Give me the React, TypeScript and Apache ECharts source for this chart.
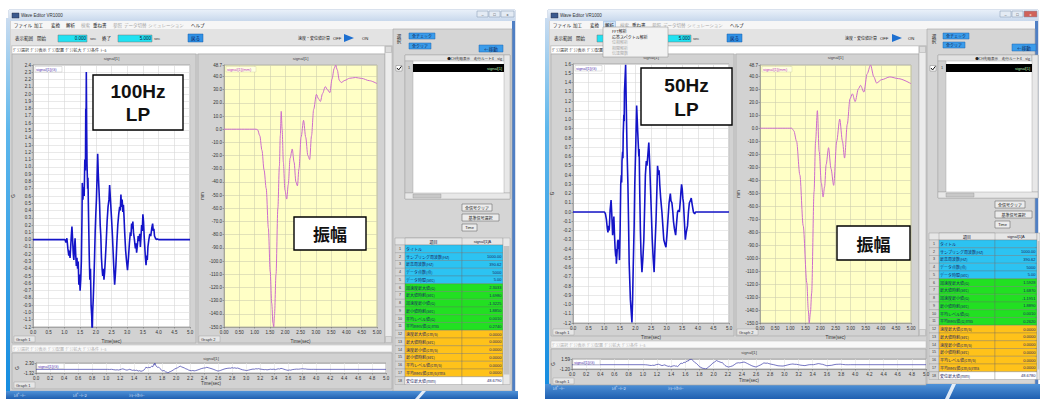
import { useEffect, useRef } from "react";
import * as echarts from "echarts";

const LAT = '"Liberation Sans", Arial, sans-serif';
const JP = '"Noto Sans CJK JP", "Noto Sans CJK SC", sans-serif';

// Acceleration after the 100 Hz low-pass filter: [time (sec), G]
const accel100Hz: [number, number][] = [
  [0, 0], [1.02, 0], [1.05, -0.04], [1.08, 0.02], [1.11, -0.12], [1.14, -0.22], [1.16, -0.15], [1.18, -0.25],
  [1.2, -0.1], [1.22, 0.05], [1.24, 0.18], [1.26, 0.02], [1.28, -0.18], [1.3, -0.28], [1.32, -0.12], [1.34, 0.02],
  [1.36, -0.2], [1.38, -0.36], [1.4, -0.25], [1.42, -0.4], [1.44, -0.3], [1.46, -0.62], [1.48, -0.48], [1.5, -0.7],
  [1.52, -0.55], [1.54, -0.3], [1.56, 0.3], [1.57, 0.78], [1.59, 0.55], [1.61, 0.72], [1.63, 0.6], [1.65, 1.1],
  [1.67, 0.95], [1.68, 1.8], [1.69, 1.6], [1.698, 2.3033], [1.71, 1.5], [1.72, 1.05], [1.74, 0.7], [1.75, 0.85],
  [1.77, 0.3], [1.79, -0.2], [1.81, -0.55], [1.83, -0.4], [1.85, -0.9], [1.87, -1.05], [1.885, -1.3225], [1.9, -1.0],
  [1.92, -0.8], [1.94, -0.55], [1.96, -0.25], [1.98, 0.1], [2.0, 0.35], [2.02, 0.55], [2.04, 0.85], [2.06, 1.18],
  [2.08, 0.9], [2.1, 0.7], [2.12, 0.5], [2.14, 0.2], [2.16, 0.05], [2.18, -0.25], [2.2, -0.4], [2.22, -0.5],
  [2.24, -0.4], [2.26, -0.55], [2.28, -0.45], [2.3, -0.3], [2.33, -0.05], [2.36, 0.25], [2.39, 0.45], [2.42, 0.55],
  [2.44, 0.75], [2.46, 0.6], [2.48, 0.45], [2.5, 0.3], [2.53, 0.05], [2.56, -0.25], [2.58, -0.45], [2.6, -0.62],
  [2.62, -0.5], [2.64, -0.35], [2.67, -0.05], [2.7, 0.2], [2.73, 0.35], [2.76, 0.45], [2.78, 0.4], [2.8, 0.62],
  [2.82, 0.45], [2.84, 0.55], [2.86, 0.38], [2.88, 0.48], [2.9, 0.3], [2.92, 0.1], [2.95, -0.15], [2.98, -0.3],
  [3.01, -0.42], [3.04, -0.25], [3.07, -0.05], [3.1, 0.1], [3.12, 0.05], [3.14, 0.22], [3.16, 0.15], [3.18, 0.25],
  [3.2, 0.1], [3.23, 0.0], [3.26, -0.12], [3.28, -0.05], [3.3, -0.18], [3.33, -0.05], [3.35, 0.05], [3.37, -0.02],
  [3.4, 0.08], [3.42, -0.1], [3.44, 0.05], [3.46, 0.2], [3.48, 0.12], [3.5, 0.35], [3.52, 0.25], [3.54, 0.05],
  [3.56, -0.1], [3.58, -0.25], [3.6, -0.35], [3.62, -0.22], [3.64, -0.28], [3.66, -0.1], [3.69, 0.0], [3.72, 0.08],
  [3.75, 0.05], [3.78, 0.15], [3.81, 0.22], [3.83, 0.12], [3.85, 0.15], [3.87, 0.05], [3.9, 0.02], [3.93, 0.0],
  [3.96, 0.01], [4.0, 0], [5.0, 0],
];

// Acceleration after the 50 Hz low-pass filter: [time (sec), G]
const accel50Hz: [number, number][] = [
  [0, 0], [1.01, 0], [1.04, -0.02], [1.07, -0.08], [1.1, -0.18], [1.12, -0.22], [1.14, -0.15], [1.16, -0.2],
  [1.19, 0.02], [1.22, 0.13], [1.24, 0.0], [1.27, -0.25], [1.29, -0.15], [1.31, -0.05], [1.33, -0.25], [1.35, -0.4],
  [1.37, -0.48], [1.38, -0.4], [1.39, -0.56], [1.41, -0.45], [1.43, -0.32], [1.45, -0.3], [1.46, -0.4], [1.47, -0.32],
  [1.49, -0.52], [1.51, -0.2], [1.53, 0.3], [1.55, 0.4], [1.56, 0.32], [1.57, 0.55], [1.59, 0.65], [1.6, 0.58],
  [1.61, 0.85], [1.63, 1.05], [1.64, 0.98], [1.65, 1.3], [1.687, 1.5928], [1.71, 1.1], [1.73, 0.7], [1.76, 0.3],
  [1.78, -0.1], [1.8, -0.55], [1.82, -0.75], [1.84, -0.95], [1.86, -1.05], [1.889, -1.1951], [1.91, -0.95], [1.93, -0.6],
  [1.96, -0.15], [1.98, 0.3], [2.01, 0.7], [2.04, 1.15], [2.07, 0.9], [2.09, 0.75], [2.11, 0.6], [2.12, 0.68],
  [2.14, 0.2], [2.16, -0.2], [2.18, -0.45], [2.21, -0.65], [2.24, -0.5], [2.27, -0.3], [2.3, 0.1], [2.32, 0.4],
  [2.35, 0.55], [2.37, 0.5], [2.4, 0.62], [2.43, 0.75], [2.46, 0.5], [2.48, 0.3], [2.51, 0.0], [2.54, -0.3],
  [2.57, -0.5], [2.6, -0.65], [2.63, -0.35], [2.66, -0.1], [2.69, 0.25], [2.71, 0.5], [2.74, 0.4], [2.76, 0.45],
  [2.78, 0.3], [2.81, 0.15], [2.85, 0.0], [2.88, -0.15], [2.91, -0.3], [2.95, -0.35], [2.98, -0.38], [3.01, -0.25],
  [3.04, -0.1], [3.08, 0.1], [3.1, 0.15], [3.12, 0.2], [3.14, 0.12], [3.17, 0.1], [3.2, 0.0], [3.22, -0.1],
  [3.25, -0.18], [3.29, -0.25], [3.32, -0.12], [3.35, 0.0], [3.38, 0.02], [3.41, 0.0], [3.44, 0.12], [3.46, 0.22],
  [3.48, 0.3], [3.5, 0.25], [3.52, 0.15], [3.54, 0.1], [3.57, -0.1], [3.6, -0.3], [3.63, -0.22], [3.67, -0.15],
  [3.7, 0.0], [3.73, 0.1], [3.76, 0.12], [3.79, 0.15], [3.82, 0.08], [3.86, 0.0], [3.9, -0.02], [3.93, 0.0],
  [5.0, 0],
];

// Displacement (mm), 100 Hz low-pass case
const disp100Hz: [number, number][] = [
  [0, 0], [1.05, 0], [1.1, -0.5], [1.17, -5], [1.24, -16], [1.31, -31], [1.38, -45], [1.45, -75], [1.51, -108],
  [1.56, -132], [1.6, -147], [1.625, -150], [1.65, -141], [1.7, -110], [1.76, -60], [1.81, -28], [1.84, -5],
  [1.87, 13.5], [1.9, 0], [1.94, -25], [1.99, -46], [2.05, -53], [2.1, -42], [2.16, -22], [2.23, -15], [2.29, -25],
  [2.35, -40], [2.4, -43], [2.45, -30], [2.52, -6], [2.6, 6.7], [2.67, -6], [2.74, -20], [2.8, -23], [2.86, -5],
  [2.93, 15], [3.02, 26.4], [3.09, 23], [3.15, 21], [3.22, 27], [3.31, 32.3], [3.38, 30], [3.46, 27.7], [3.53, 38],
  [3.6, 46], [3.65, 48.679], [3.7, 45], [3.77, 37], [3.83, 35.4], [3.95, 37], [4.1, 38.6], [4.3, 39.2], [4.5, 38.5],
  [4.75, 36.8], [5.0, 34.6],
];

// Displacement (mm), 50 Hz low-pass case
const disp50Hz: [number, number][] = [
  [0, 0], [1.05, 0], [1.12, -2], [1.21, -10], [1.32, -36], [1.43, -75], [1.55, -119], [1.6, -140], [1.63, -150],
  [1.67, -142], [1.71, -127], [1.79, -49], [1.84, -10], [1.9, 13.5], [1.96, -18], [2.03, -42], [2.09, -53],
  [2.14, -45], [2.19, -28], [2.27, -15], [2.35, -31], [2.44, -44], [2.54, -10], [2.64, 7], [2.73, -10], [2.8, -23],
  [2.89, 3], [2.98, 22.6], [3.06, 26.5], [3.15, 20.5], [3.26, 30.4], [3.33, 33], [3.44, 27.8], [3.55, 42],
  [3.66, 48.678], [3.77, 39.5], [3.86, 34.8], [4.03, 37.4], [4.3, 39.5], [4.58, 38.2], [5.0, 34.3],
];

const menuLabels = ["ファイル", "加工", "変換", "解析", "検索", "重ね書", "参照", "データ切替", "シミュレーション", "ヘルプ"];
const menuGrayed = [false, false, false, false, true, false, true, true, true, false];
const graphTabs = ["ｸﾞﾗﾌ選択", "ｸﾞﾗﾌ表示", "ｸﾞﾗﾌ配置", "ｸﾞﾗﾌ拡大", "ｸﾞﾗﾌ条件", "ﾄｰﾙ"];
const analysisItems = ["FFT解析", "応答スペクトル解析", "位相解析", "相関解析", "伝達関数"];
const taskbarItems = ["ﾚﾎﾟｰﾄ-", "ﾚﾎﾟｰﾄ-2", "ｼｮｰﾄｶｯﾄ-"];

const tableItems = [
  "タイトル", "サンプリング周波数(Hz)", "最高周波数(Hz)", "データ点数(点)", "データ時間(sec)",
  "加速度最大値(G)", "最大値時刻(sec)", "加速度最小値(G)", "最小値時刻(sec)", "平均レベル値(G)", "平均RMS値(G)rms",
  "速度最大値(cm/s)", "最大値時刻(sec)", "速度最小値(cm/s)", "最小値時刻(sec)", "平均レベル値(cm/s)", "平均RMS値(cm/s)rms",
  "変位最大値(mm)",
];
const headerValues = ["", "1000.00", "390.62", "5000", "5.00"];
const levelRms100Hz = ["0.0010", "0.2740"];
const levelRms50Hz = ["0.0010", "0.2620"];
const velocityValues = ["0.0000", "0.0000", "0.0000", "0.0000", "0.0000", "0.0000"];
const noteLeft = ["100Hz", "LP"];
const noteRight = ["50Hz", "LP"];
const ampLabel = "振幅";

// row colours of the result table: basic info, acceleration, velocity, displacement
const rowFills = [
  "#2cc3f2", "#2cc3f2", "#2cc3f2", "#2cc3f2", "#2cc3f2",
  "#22e022", "#22e022", "#22e022", "#22e022", "#22e022", "#22e022",
  "#ffc21a", "#ffc21a", "#ffc21a", "#ffc21a", "#ffc21a", "#ffc21a",
  "#ffffff",
];

function tableValues(acc: [number, number][], disp: [number, number][], levelRms: string[]) {
  let hi = acc[0], lo = acc[0];
  acc.forEach((p) => { if (p[1] > hi[1]) hi = p; if (p[1] < lo[1]) lo = p; });
  const dmax = Math.max(...disp.map((p) => p[1]));
  return [
    ...headerValues,
    hi[1].toFixed(4), hi[0].toFixed(4), lo[1].toFixed(4), lo[0].toFixed(4),
    ...levelRms, ...velocityValues, dmax.toFixed(4),
  ];
}

type Box = { left: number; top: number; width: number; height: number };

const leftPanel = {
  x0: 9, x1: 515, top: 10, bottom: 391,
  graphR: 393, divider: 196, scrollX: 385,
  c1: { left: 33, top: 65, width: 157, height: 262 } as Box,
  c2: { left: 224, top: 65, width: 153, height: 262 } as Box,
  strip: { left: 36, top: 363, width: 350, height: 10 } as Box,
  chartGap: 10, stripGap: 8,
  titleY: 58, graphLabelY: 339, tab2Y: 345, stripTitleY: 358, stripLabelY: 385,
  speedX: [298, 333, 344, 362],
  side: { sel: 399, chk: [409, 33], clr: [409, 43], move: [479, 45], list: [405, 55, 105, 144], check: 396, btnX: 462, btnY: [204, 214, 224] },
  table: { x: 395, y: 238, cols: [10, 57, 41], rowH: 7.75, headH: 7, scrollW: 7 },
  note: { x: 93, y: 75, w: 90, h: 55 },
  amp: { x: 294, y: 217, w: 72, h: 33 },
  taskY: 391, streakX: 415, dropdown: null as null | { x: number; y: number; w: number; h: number },
  closeRed: false,
};

const rightPanel = {
  x0: 548, x1: 1038, top: 10, bottom: 384,
  graphR: 927, divider: 734, scrollX: 919,
  c1: { left: 573, top: 64, width: 156, height: 259 } as Box,
  c2: { left: 760, top: 65, width: 151, height: 258 } as Box,
  strip: { left: 572, top: 359, width: 354, height: 10 } as Box,
  chartGap: 7, stripGap: 9,
  titleY: 57, graphLabelY: 332, tab2Y: 341, stripTitleY: 352, stripLabelY: 381,
  speedX: [845, 880, 892, 908],
  side: { sel: 934, chk: [943, 33], clr: [943, 42], move: [1012, 44], list: [938, 55, 100, 143], check: 930, btnX: 995, btnY: [201, 211, 221] },
  table: { x: 929, y: 233, cols: [10, 56, 42], rowH: 7.75, headH: 7, scrollW: 3 },
  note: { x: 641, y: 68, w: 91, h: 57 },
  amp: { x: 837, y: 226, w: 73, h: 34 },
  taskY: 384, streakX: 945, dropdown: { x: 603, y: 27, w: 65, h: 30 },
  closeRed: true,
};

type Panel = typeof leftPanel;

function R(x: number, y: number, w: number, h: number, fill: any, stroke?: string, z = -5, lw = 0.6) {
  return {
    type: "rect", silent: true, z,
    shape: { x, y, width: w, height: h },
    style: { fill, stroke: stroke || "none", lineWidth: stroke ? lw : 0 },
  };
}

function T(x: number, y: number, text: string, size: number, color: string,
  opt: { align?: string; weight?: string; family?: string; z?: number } = {}) {
  const align = opt.align || "left";
  return {
    type: "text", silent: true, z: opt.z ?? -1, x, y,
    style: {
      text, fill: color, fontSize: size, fontFamily: opt.family || JP, fontWeight: opt.weight || "normal",
      align, textAlign: align, verticalAlign: "middle", textVerticalAlign: "middle",
    },
  };
}

function vgrad(stops: [number, string][]) {
  return new echarts.graphic.LinearGradient(0, 0, 0, 1, stops.map(([offset, color]) => ({ offset, color })));
}

function button(x: number, y: number, w: number, h: number, label: string, blue: boolean, size = 4) {
  return [
    R(x, y, w, h, blue ? "#3b9cea" : "#ececec", blue ? "#1c64b0" : "#555", -3, 0.5),
    T(x + w / 2, y + h / 2, label, size, blue ? "#0e1c55" : "#222", { align: "center", family: label === "Time" ? LAT : JP }),
  ];
}

function panelGraphics(p: Panel, values: string[], note: string[]) {
  const g: any[] = [];
  const { x0, x1 } = p;
  const W = x1 - x0;
  // items that sit under the open drop-down menu are not drawn
  const covered = (xa: number, xb: number, y: number) =>
    !!p.dropdown && xb > p.dropdown.x && xa < p.dropdown.x + p.dropdown.w &&
    y > p.dropdown.y && y < p.dropdown.y + p.dropdown.h;

  // window body and frame
  g.push(R(x0, p.top, W, p.bottom - p.top, "#d3d3d3", "#7f9cc4", -9));
  g.push({
    type: "rect", silent: true, z: -8,
    shape: { x: x0 - 3, y: p.top + 8, width: 4, height: p.bottom - p.top - 8 },
    style: { fill: vgrad([[0, "#cadcf0"], [0.3, "#5db7ec"], [1, "#168de0"]]) },
  });
  g.push(R(x1 - 3, p.top + 10, 3, p.bottom - p.top - 10, "#4f7fc4", undefined, -8));

  // title bar
  g.push({
    type: "rect", silent: true, z: -8,
    shape: { x: x0, y: p.top, width: W, height: 11 },
    style: { fill: vgrad([[0, "#e9f0f9"], [1, "#c8d8ec"]]) },
  });
  g.push(R(x0 + 3, p.top + 3, 7, 5, "#3b5a8e", "#223", -7, 0.4));
  g.push(T(x0 + 12, p.top + 5.5, "Wave Editor VR1000", 4.5, "#333", { family: LAT }));
  const bx = x1 - 38;
  g.push(R(bx, p.top + 1, 11, 6, "#e4ebf4", "#8094b0", -7, 0.5));
  g.push(R(bx + 12, p.top + 1, 11, 6, "#e4ebf4", "#8094b0", -7, 0.5));
  g.push(R(bx + 24, p.top + 1, 13, 6, p.closeRed ? "#d0625a" : "#e4ebf4", "#8094b0", -7, 0.5));
  g.push(T(bx + 5.5, p.top + 4, "–", 4, "#333", { align: "center", family: LAT }));
  g.push(T(bx + 17.5, p.top + 4, "□", 4, "#333", { align: "center", family: LAT }));
  g.push(T(bx + 30.5, p.top + 4, "x", 4, p.closeRed ? "#fff" : "#333", { align: "center", family: LAT }));

  // menu bar
  const menuOffsets = [5, 25, 42, 57, 72, 84, 104, 115, 139, 182];
  g.push(R(x0 + 2, 21, W - 5, 8, "#f6f6f6", undefined, -8));
  if (p.dropdown) g.push(R(x0 + menuOffsets[3] - 1.5, 21.3, 12, 7, "#d3e5f8", "#7ea8d8", -7, 0.5));
  menuLabels.forEach((m, i) => g.push(T(x0 + menuOffsets[i], 25, m, 4.5, menuGrayed[i] ? "#a8a8a8" : "#222")));

  // toolbar: display range and velocity/displacement switch
  g.push(R(x0 + 2, 29, p.graphR - x0 - 2, 16, "#e3e3e3", undefined, -8));
  const tool = (xa: number, xb: number, el: any) => { if (!covered(xa, xb, 38)) g.push(el); };
  tool(x0 + 6, x0 + 24, T(x0 + 6, 38, "表示範囲", 4.5, "#222"));
  tool(x0 + 28, x0 + 37, T(x0 + 28, 38, "開始", 4.5, "#222"));
  g.push(R(x0 + 49, 35, 29, 7, "#20e2f2", "#777", -7, 0.5));
  tool(x0 + 65, x0 + 77, T(x0 + 77, 38.5, "0.000", 4.5, "#113", { align: "right", family: LAT }));
  tool(x0 + 81, x0 + 88, T(x0 + 81, 38.5, "sec", 4, "#333", { family: LAT }));
  tool(x0 + 93, x0 + 102, T(x0 + 93, 38, "終了", 4.5, "#222"));
  g.push(R(x0 + 109, 35, 34, 7, "#20e2f2", "#777", -7, 0.5));
  tool(x0 + 130, x0 + 142, T(x0 + 142, 38.5, "5.000", 4.5, "#113", { align: "right", family: LAT }));
  tool(x0 + 145, x0 + 152, T(x0 + 145, 38.5, "sec", 4, "#333", { family: LAT }));
  g.push(R(x0 + 179, 34, 15, 8, "#2f91e6", "#1a5ea8", -7, 0.5));
  g.push(T(x0 + 186.5, 38, "戻る", 4.5, "#0b1850", { align: "center" }));
  const [sx, offx, ax, onx] = p.speedX;
  g.push(T(sx, 38, "速度・変位値計算", 4, "#222"));
  g.push(T(offx, 38, "OFF", 4.2, "#222", { family: LAT }));
  g.push({ type: "polygon", silent: true, z: -6, shape: { points: [[ax, 34], [ax, 42], [ax + 10, 38]] }, style: { fill: "#1d6fd0" } });
  g.push(T(onx, 38, "ON", 4.2, "#222", { family: LAT }));

  // graph tabs
  g.push(R(x0 + 3, 46, p.scrollX - x0 - 3, 8, "#ffffff", "#b8b8b8", -7, 0.5));
  graphTabs.forEach((t, i) => {
    const tx = x0 + 4 + i * 17.5;
    if (!covered(tx, tx + 16, 50)) g.push(T(tx, 50, t, 4, "#333"));
  });

  // chart panels
  const panelBottom = p.graphLabelY + 4;
  g.push(R(x0 + 3, 54, p.divider - x0 - 3, panelBottom - 54, "#d2d2d2", "#a4a4a4", -7, 0.6));
  g.push(R(p.divider + 2, 54, p.scrollX - p.divider - 2, panelBottom - 54, "#d2d2d2", "#a4a4a4", -7, 0.6));
  g.push(R(p.scrollX, 46, 7, panelBottom - 46, "#ececec", "#a4a4a4", -7, 0.5));
  g.push(R(p.scrollX + 0.5, 46.5, 6, 6, "#dcdcdc", "#999", -6, 0.4));
  g.push(R(p.scrollX + 0.5, panelBottom - 6.5, 6, 6, "#dcdcdc", "#999", -6, 0.4));
  g.push(T(p.c1.left + p.c1.width / 2, p.titleY + 0.5, "signal[1]", 4.2, "#444", { align: "center", family: LAT }));
  g.push(T(p.c2.left + p.c2.width / 2, p.titleY + 0.5, "signal[1]", 4.2, "#444", { align: "center", family: LAT }));
  g.push(R(x0 + 5, p.graphLabelY - 3, 21, 6, "#e6e6e6", "#999", -6, 0.4));
  g.push(T(x0 + 7, p.graphLabelY, "Graph 1", 4, "#333", { family: LAT }));
  g.push(R(p.divider + 3, p.graphLabelY - 3, 21, 6, "#e6e6e6", "#999", -6, 0.4));
  g.push(T(p.divider + 5, p.graphLabelY, "Graph 2", 4, "#333", { family: LAT }));

  // legend labels inside the plots
  g.push(R(p.c1.left + 2, p.c1.top + 1.5, 27, 5.5, "#ffffff", "#b8b8b8", 4, 0.4));
  g.push(T(p.c1.left + 3, p.c1.top + 4.3, "signal[1](G)", 4, "#5238b0", { family: LAT, z: 5 }));
  g.push(R(p.c2.left + 2, p.c2.top + 1.5, 30, 5.5, "#ffffe0", "#d0d0a0", 4, 0.4));
  g.push(T(p.c2.left + 3, p.c2.top + 4.3, "signal[1](mm)", 4, "#c040c0", { family: LAT, z: 5 }));

  // lower strip
  g.push(R(x0 + 3, p.tab2Y, p.graphR - x0 - 4, 7, "#f8f8f8", "#b8b8b8", -7, 0.5));
  graphTabs.forEach((t, i) => g.push(T(x0 + 4 + i * 17.5, p.tab2Y + 3.5, t, 4, "#b0b0b0")));
  g.push(R(x0 + 3, p.tab2Y + 8, p.graphR - x0 - 4, p.stripLabelY + 4 - p.tab2Y - 8, "#d2d2d2", "#a4a4a4", -7, 0.6));
  g.push(T(p.strip.left + p.strip.width / 2, p.stripTitleY, "signal[1]", 4.2, "#444", { align: "center", family: LAT }));
  g.push(R(x0 + 5, p.stripLabelY - 3, 21, 6, "#e6e6e6", "#999", -6, 0.4));
  g.push(T(x0 + 7, p.stripLabelY, "Graph 1", 4, "#333", { family: LAT }));
  g.push(R(p.strip.left + 1, p.strip.top + 0.5, 27, 5, "#ffffff", "#b8b8b8", 4, 0.4));
  g.push(T(p.strip.left + 2, p.strip.top + 3, "signal[1](G)", 4, "#5238b0", { family: LAT, z: 5 }));

  // side panel: signal list
  const s = p.side;
  g.push(R(p.graphR, 29, x1 - 3 - p.graphR, p.bottom - 29, "#d5d5d5", "#a4a4a4", -8, 0.6));
  g.push(T(s.sel, 35.5, "選", 4.5, "#222", { align: "center" }));
  g.push(T(s.sel, 41, "択", 4.5, "#222", { align: "center" }));
  g.push(...button(s.chk[0], s.chk[1], 26, 6, "全チェック", true));
  g.push(...button(s.clr[0], s.clr[1], 22, 6, "全クリア", true));
  g.push(...button(s.move[0], s.move[1], 24, 7, "←移動", true, 4.5));
  const [lx, ly, lw, lh] = s.list;
  g.push(R(lx, ly, lw, lh, "#ffffff", "#999", -7, 0.5));
  g.push(R(lx, ly, lw - 6, 6, "#e2e2e2", "#999", -6, 0.4));
  g.push(T(lx + lw - 8, ly + 3, "●CH先頭表示　走行ルート4　sig", 3.6, "#222", { align: "right" }));
  g.push(R(lx, ly + 6, 8, lh - 12, "#d0d0d0", "#999", -6, 0.4));
  g.push(R(lx + lw - 6, ly, 6, lh - 6, "#e8e8e8", "#999", -6, 0.4));
  g.push(R(lx + 8, ly + 9, lw - 14, 8, "#000000", undefined, -6));
  g.push(T(lx + 4, ly + 13, "1", 3.8, "#333", { align: "center", family: LAT }));
  g.push(T(lx + lw - 8, ly + 13, "signal[1]", 4, "#b8f2b8", { align: "right", family: LAT }));
  g.push(R(lx, ly + lh - 6, lw, 6, "#e8e8e8", "#999", -6, 0.4));
  g.push(R(lx + 8, ly + lh - 5, 28, 4, "#c8c8c8", "#999", -5, 0.4));
  g.push(R(s.check, ly + 10.5, 6, 5.5, "#ffffff", "#666", -6, 0.4));
  g.push({ type: "polyline", silent: true, z: -5, shape: { points: [[s.check + 1, ly + 13], [s.check + 2.6, ly + 15], [s.check + 5.4, ly + 11.3]] }, style: { stroke: "#111", lineWidth: 1, fill: "none" } });
  g.push(...button(s.btnX, s.btnY[0], 30, 7, "全信号クリア", false));
  g.push(...button(s.btnX, s.btnY[1], 37, 7, "基準信号選択", false));
  g.push(...button(s.btnX, s.btnY[2], 15, 7, "Time", false));

  // result table
  const tb = p.table;
  const [c0, c1, c2] = tb.cols;
  const tw = c0 + c1 + c2;
  g.push(R(tb.x, tb.y, tw, tb.headH, "#e6e6e6", "#888", -6, 0.4));
  g.push(R(tb.x + c0, tb.y, c1, tb.headH, "#e6e6e6", "#888", -6, 0.4));
  g.push(T(tb.x + c0 + c1 / 2, tb.y + tb.headH / 2, "項目", 4, "#223", { align: "center" }));
  g.push(T(tb.x + c0 + c1 + c2 / 2, tb.y + tb.headH / 2, "signal[1]A", 4, "#223", { align: "center", family: LAT }));
  tableItems.forEach((item, i) => {
    const ry = tb.y + tb.headH + i * tb.rowH;
    g.push(R(tb.x, ry, c0, tb.rowH, "#d6d6d6", "#888", -6, 0.3));
    g.push(R(tb.x + c0, ry, c1, tb.rowH, rowFills[i], "#6a6a6a", -6, 0.3));
    g.push(R(tb.x + c0 + c1, ry, c2, tb.rowH, rowFills[i], "#6a6a6a", -6, 0.3));
    g.push(T(tb.x + c0 / 2, ry + tb.rowH / 2, String(i + 1), 3.6, "#333", { align: "center", family: LAT }));
    g.push(T(tb.x + c0 + 1, ry + tb.rowH / 2, item, 4, "#1b2660"));
    g.push(T(tb.x + tw - 1.5, ry + tb.rowH / 2, values[i], 4, "#1b2660", { align: "right", family: LAT }));
  });
  const th = tb.headH + tableItems.length * tb.rowH;
  g.push(R(tb.x + tw, tb.y, tb.scrollW, th, "#e8e8e8", "#999", -6, 0.4));
  g.push(R(tb.x + tw + 0.5, tb.y + 8, tb.scrollW - 1, th - 18, "#c4c4c4", undefined, -5));

  // analysis menu dropped down
  if (p.dropdown) {
    const d = p.dropdown;
    g.push(R(d.x, d.y, d.w, d.h, "#f2f2f2", "#888", 10, 0.5));
    analysisItems.forEach((it, i) =>
      g.push(T(d.x + 9, d.y + 4 + i * 5.5, it, 4, i < 2 ? "#222" : "#aaa", { z: 11 })));
  }

  // caption boxes
  const n = p.note;
  g.push(R(n.x, n.y, n.w, n.h, "#ffffff", "#000", 10, 1.4));
  g.push(T(n.x + n.w / 2, n.y + n.h * 0.3, note[0], 19, "#111", { align: "center", weight: "bold", family: LAT, z: 11 }));
  g.push(T(n.x + n.w / 2, n.y + n.h * 0.72, note[1], 19, "#111", { align: "center", weight: "bold", family: LAT, z: 11 }));
  const a = p.amp;
  g.push(R(a.x, a.y, a.w, a.h, "#ffffff", "#000", 10, 1.4));
  g.push(T(a.x + a.w / 2, a.y + a.h / 2, ampLabel, 17, "#111", { align: "center", weight: "bold", z: 11 }));

  // taskbar
  g.push({
    type: "rect", silent: true, z: -8,
    shape: { x: x0 - 3, y: p.taskY, width: W + 6, height: 399 - p.taskY },
    style: { fill: vgrad([[0, "#4f92d8"], [1, "#1f5fb0"]]) },
  });
  g.push({
    type: "polygon", silent: true, z: -7,
    shape: { points: [[p.streakX, 399], [p.streakX + 7, p.taskY], [p.streakX + 11, p.taskY], [p.streakX + 4, 399]] },
    style: { fill: "rgba(255,255,255,0.85)" },
  });
  [5, 64, 120].forEach((dx, i) => g.push(T(x0 + dx, p.taskY + 4, taskbarItems[i], 4, "#e6eeff")));
  return g;
}

const axisText = { fontSize: 4.5, color: "#333", fontFamily: LAT };

function gridOf(b: Box, bg: string, border: string) {
  return {
    left: b.left, top: b.top, width: b.width, height: b.height,
    show: true, backgroundColor: bg, borderColor: border, borderWidth: 0.8,
    containLabel: false, outerBoundsMode: "none",
  };
}

function timeAxis(gridIndex: number, interval: number, digits: number, gridColor: string, nameGap: number) {
  return {
    type: "value", gridIndex, min: 0, max: 5, interval,
    axisLine: { show: true, onZero: false, lineStyle: { color: "#888", width: 0.6 } },
    axisTick: { show: true, length: 1.5, lineStyle: { color: "#666", width: 0.5 } },
    axisLabel: { ...axisText, margin: 2.5, hideOverlap: false, formatter: (v: number) => v.toFixed(digits) },
    splitLine: { show: true, lineStyle: { color: gridColor, width: 0.6 } },
    name: "Time(sec)", nameLocation: "middle", nameGap, nameTextStyle: { ...axisText },
  };
}

function levelAxis(gridIndex: number, min: number, max: number, interval: number, digits: number,
  gridColor: string, name: string, nameGap: number, hideZero = false) {
  return {
    type: "value", gridIndex, min, max, interval,
    axisLine: { show: true, onZero: false, lineStyle: { color: "#888", width: 0.6 } },
    axisTick: { show: true, length: 1.5, lineStyle: { color: "#666", width: 0.5 } },
    axisLabel: {
      ...axisText, margin: 2, hideOverlap: false,
      formatter: (v: number) => (Math.abs(v) < 1e-9 ? (hideZero ? "" : (0).toFixed(digits)) : v.toFixed(digits)),
    },
    splitLine: { show: true, lineStyle: { color: gridColor, width: 0.6 } },
    name, nameLocation: "middle", nameRotate: 90, nameGap, nameTextStyle: { ...axisText },
  };
}

function seriesFor(acc: [number, number][], disp: [number, number][], base: number) {
  return [
    {
      type: "line", xAxisIndex: base, yAxisIndex: base, data: acc, showSymbol: false, symbol: "none",
      lineStyle: { color: "#1414c8", width: 1.6 }, z: 3,
    },
    {
      type: "line", xAxisIndex: base + 1, yAxisIndex: base + 1, data: disp, showSymbol: false, symbol: "none",
      smooth: 0.3, smoothMonotone: "x", lineStyle: { color: "#cc6ccc", width: 1 }, z: 3,
    },
    {
      type: "line", xAxisIndex: base + 2, yAxisIndex: base + 2, data: acc, showSymbol: false, symbol: "none",
      lineStyle: { color: "#3a3aa8", width: 0.7 }, z: 3,
    },
  ];
}

function axesFor(p: Panel, acc: [number, number][], disp: [number, number][], base: number, accTop: number) {
  const vals = acc.map((q) => q[1]);
  const sMin = Number(Math.min(...vals).toFixed(2));
  const sMax = Number(Math.max(...vals).toFixed(2));
  const dMax = Math.max(...disp.map((q) => q[1]));
  return {
    x: [
      timeAxis(base, 0.5, 1, "#d6d6d6", p.chartGap),
      timeAxis(base + 1, 0.5, 2, "#cfcfae", p.chartGap),
      timeAxis(base + 2, 0.2, 1, "#e4e4e4", p.stripGap),
    ],
    y: [
      levelAxis(base, -1.2, accTop, 0.1, 1, "#dadada", "G", p.c1.left - p.x0 - 7),
      levelAxis(base + 1, -150, dMax, 10, 1, "#cfcfae", "mm", 19),
      levelAxis(base + 2, sMin, sMax, Number((sMax - sMin).toFixed(2)), 2, "#a8a8a8", "G", 12, true),
    ],
  };
}

export default function App() {
  const ref = useRef<HTMLDivElement>(null);

  useEffect(() => {
    document.body.style.margin = "0";
    if (!ref.current) return;
    const chart = echarts.init(ref.current, undefined, { renderer: "svg" });

    const leftAxes = axesFor(leftPanel, accel100Hz, disp100Hz, 0, 2.4);
    const rightAxes = axesFor(rightPanel, accel50Hz, disp50Hz, 3, 1.6);

    const graphics = [
      ...panelGraphics(leftPanel, tableValues(accel100Hz, disp100Hz, levelRms100Hz), noteLeft),
      ...panelGraphics(rightPanel, tableValues(accel50Hz, disp50Hz, levelRms50Hz), noteRight),
    ];

    chart.setOption({
      animation: false,
      backgroundColor: "#ffffff",
      textStyle: { fontFamily: LAT },
      grid: [
        gridOf(leftPanel.c1, "#ffffff", "#9a9a9a"),
        gridOf(leftPanel.c2, "#ffffc6", "#a8a8a0"),
        gridOf(leftPanel.strip, "#ffffff", "#9a9a9a"),
        gridOf(rightPanel.c1, "#ffffff", "#9a9a9a"),
        gridOf(rightPanel.c2, "#ffffc6", "#a8a8a0"),
        gridOf(rightPanel.strip, "#ffffff", "#9a9a9a"),
      ],
      xAxis: [...leftAxes.x, ...rightAxes.x],
      yAxis: [...leftAxes.y, ...rightAxes.y],
      series: [...seriesFor(accel100Hz, disp100Hz, 0), ...seriesFor(accel50Hz, disp50Hz, 3)],
      graphic: { elements: graphics },
    });

    return () => chart.dispose();
  }, []);

  return <div ref={ref} style={{ position: "absolute", left: 0, top: 0, width: 1040, height: 399 }} />;
}
